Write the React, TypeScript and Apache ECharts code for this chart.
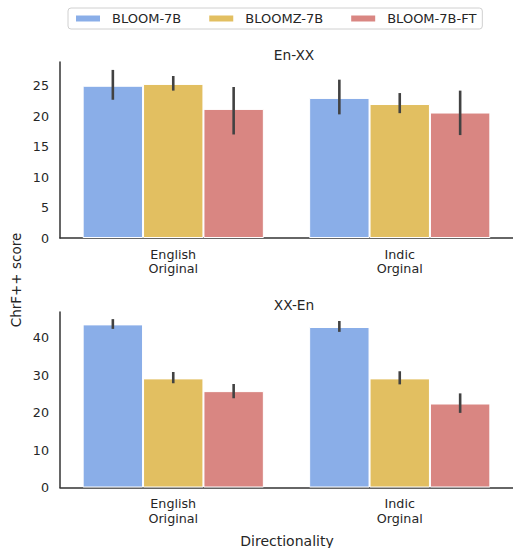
import React, { useEffect, useRef } from "react";
import * as echarts from "echarts";

const categories = ["English\nOriginal", "Indic\nOrginal"];
const seriesNames = ["BLOOM-7B", "BLOOMZ-7B", "BLOOM-7B-FT"];
const colors = ["#8AAEE8", "#E2BF61", "#D98682"];

// En-XX
const enxxValues = [
  [25.0, 23.0],
  [25.3, 22.0],
  [21.2, 20.6],
];
const enxxLow = [
  [22.7, 20.3],
  [24.2, 20.5],
  [17.0, 16.9],
];
const enxxHigh = [
  [27.6, 26.0],
  [26.6, 23.8],
  [24.8, 24.2],
];

// XX-En
const xxenValues = [
  [43.5, 42.8],
  [29.1, 29.1],
  [25.7, 22.4],
];
const xxenLow = [
  [42.3, 41.5],
  [27.8, 27.5],
  [23.8, 19.9],
];
const xxenHigh = [
  [44.9, 44.4],
  [30.8, 31.0],
  [27.6, 25.1],
];

const FONT = "DejaVu Sans";
const TXT = "#262626";

export default function App() {
  const ref = useRef<HTMLDivElement>(null);
  useEffect(() => {
    if (!ref.current) return;
    const chart = echarts.init(ref.current, null, { renderer: "svg" });

    const grids = [
      { left: 60, width: 456, top: 62, height: 176 },
      { left: 60, width: 456, top: 312, height: 175.5 },
    ];
    const maxes = [28.9, 46.8];
    const intervals = [5, 10];

    const xAxes = grids.map((_, gi) => ({
      type: "category",
      gridIndex: gi,
      data: categories,
      axisLine: { lineStyle: { color: "#333", width: 1.5 } },
      axisTick: { show: false },
      axisLabel: {
        color: TXT,
        fontFamily: FONT,
        fontSize: 12.7,
        lineHeight: 14.5,
        margin: 9,
      },
      splitLine: { show: false },
    }));
    const yAxes = grids.map((_, gi) => ({
      type: "value",
      gridIndex: gi,
      min: 0,
      max: maxes[gi],
      interval: intervals[gi],
      axisLine: { show: true, lineStyle: { color: "#333", width: 1.5 } },
      axisTick: { show: false },
      splitLine: { show: false },
      axisLabel: {
        color: TXT,
        fontFamily: FONT,
        fontSize: 12.7,
        margin: 11,
        formatter: (v: number) => (Math.abs(v % intervals[gi]) < 1e-9 ? String(v) : ""),
      },
    }));

    const series: any[] = [];
    const panels = [
      { vals: enxxValues, lo: enxxLow, hi: enxxHigh },
      { vals: xxenValues, lo: xxenLow, hi: xxenHigh },
    ];
    panels.forEach((p, gi) => {
      p.vals.forEach((vals, si) => {
        series.push({
          type: "bar",
          name: seriesNames[si],
          xAxisIndex: gi,
          yAxisIndex: gi,
          data: vals,
          barGap: "0%",
          barCategoryGap: "20%",
          itemStyle: { color: colors[si], borderColor: "#fff", borderWidth: 1 },
        });
      });
      const errData: number[][] = [];
      p.vals.forEach((vals, si) => {
        vals.forEach((_, ci) => {
          errData.push([ci, p.lo[si][ci], p.hi[si][ci], si]);
        });
      });
      series.push({
        type: "custom",
        xAxisIndex: gi,
        yAxisIndex: gi,
        data: errData,
        encode: { x: 0, y: [1, 2] },
        z: 10,
        silent: true,
        renderItem: (params: any, api: any) => {
          const ci = api.value(0);
          const si = api.value(3);
          const band = api.size([1, 0])[0];
          const bw = (band * 0.8) / 3;
          const off = (si - 1) * bw;
          const pLo = api.coord([ci, api.value(1)]);
          const pHi = api.coord([ci, api.value(2)]);
          return {
            type: "line",
            shape: { x1: pLo[0] + off, y1: pLo[1], x2: pHi[0] + off, y2: pHi[1] },
            style: { stroke: "#424242", lineWidth: 2.6 },
          };
        },
      });
    });

    chart.setOption({
      animation: false,
      backgroundColor: "#fff",
      textStyle: { fontFamily: FONT },
      title: [
        {
          text: "En-XX",
          left: 289,
          top: 43,
          textAlign: "center",
          textStyle: { fontFamily: FONT, fontSize: 13.75, fontWeight: "normal", color: TXT },
        },
        {
          text: "XX-En",
          left: 289,
          top: 293,
          textAlign: "center",
          textStyle: { fontFamily: FONT, fontSize: 13.75, fontWeight: "normal", color: TXT },
        },
      ],
      legend: {
        data: seriesNames,
        left: 68,
        top: 8,
        width: 411,
        icon: "rect",
        itemWidth: 26,
        itemHeight: 8,
        itemGap: 26,
        padding: [4, 6, 4, 6],
        borderColor: "#d0d0d0",
        borderWidth: 1,
        borderRadius: 3,
        textStyle: {
          fontFamily: FONT,
          fontSize: 13,
          color: TXT,
          padding: [0, 0, 0, 6],
        },
      },
      grid: grids,
      xAxis: xAxes,
      yAxis: yAxes,
      series,
      graphic: [
        {
          type: "text",
          x: 16,
          y: 280,
          rotation: Math.PI / 2,
          style: {
            text: "ChrF++ score",
            fontFamily: FONT,
            fontSize: 13.5,
            fill: TXT,
            textAlign: "center",
            textVerticalAlign: "middle",
          },
        },
        {
          type: "text",
          x: 287,
          y: 541,
          style: {
            text: "Directionality",
            fontFamily: FONT,
            fontSize: 14,
            fill: TXT,
            textAlign: "center",
            textVerticalAlign: "middle",
          },
        },
      ],
    });
    return () => chart.dispose();
  }, []);
  return (
    <div
      ref={ref}
      style={{ position: "fixed", left: 0, top: 0, width: 513, height: 548 }}
    />
  );
}
